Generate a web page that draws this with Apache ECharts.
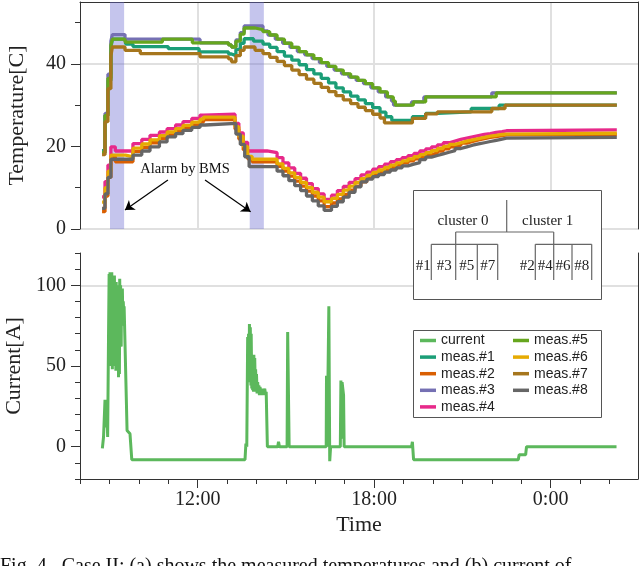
<!DOCTYPE html>
<html>
<head>
<meta charset="utf-8">
<script src="https://cdn.jsdelivr.net/npm/echarts@6/dist/echarts.min.js"></script>
<style>
html, body { margin: 0; padding: 0; background: #fff; }
#main { width: 640px; height: 566px; }
</style>
</head>
<body>
<div id="main"></div>
<script>
// time in hours from midnight of day 1 (24 = 0:00 next day)
var hourTicks = [8, 9, 10, 11, 12, 13, 14, 15, 16, 17, 18, 19, 20, 21, 22, 23, 24, 25, 26];
var hourLabels = [12, 18, 24];
var tempTicks = [0, 20, 40];
var tempMinor = [10, 30, 50];
var currTicks = [0, 50, 100];
var currMinor = [-20, -10, 10, 20, 30, 40, 60, 70, 80, 90, 110, 120];
var alarms = [[9.02, 9.50], [13.77, 14.25]];
var arrows = [[[10.99, 11.87], [9.53, 4.60]], [[12.25, 11.87], [13.80, 4.19]]];

var current = [[8.76,-1],[8.80,6],[8.85,29],[8.88,12],[8.91,27],[8.94,6],[8.97,69],
  [8.99,107],[9.01,70],[9.02,108],[9.04,50],[9.05,107],[9.07,62],[9.08,108],[9.10,48],[9.11,105],[9.13,55],[9.14,100],[9.16,50],[9.17,106],[9.19,60],[9.20,100],[9.22,47],[9.23,102],[9.25,65],[9.26,100],[9.28,55],[9.29,98],[9.31,43],[9.32,100],[9.34,45],[9.35,104],[9.37,70],[9.38,100],[9.40,62],[9.41,96],[9.43,80],[9.44,98],[9.46,75],[9.47,90],[9.49,82],[9.50,87],
  [9.60,10],[9.70,8],[9.76,-8],
  [13.61,-8],[13.64,2],[13.67,0],[13.70,68],[13.72,40],[13.73,70],[13.75,45],[13.76,76],[13.78,40],[13.79,74],[13.81,38],[13.82,70],[13.84,36],[13.85,57],[13.87,35],[13.88,56],[13.90,34],[13.91,57],[13.93,35],[13.94,55],[13.96,36],[13.97,48],[13.99,34],[14.00,45],[14.02,33],[14.04,40],[14.06,33],[14.08,38],[14.10,32],[14.12,37],[14.15,33],[14.17,36],[14.20,32],[14.22,35],[14.25,33],[14.28,36],[14.31,32],[14.33,34],[14.37,0],
  [14.72,0],[14.75,3],[14.78,0],[15.04,0],[15.06,71],[15.09,71],[15.11,0],
  [16.37,0],[16.38,44],[16.39,2],[16.40,42],[16.41,0],[16.43,42],[16.46,87],[16.49,-9],[16.52,0],
  [16.85,0],[16.87,41],[16.89,5],[16.91,40],[16.96,32],[16.98,0],
  [19.27,0],[19.30,3],[19.34,-8],[22.90,-8],[22.93,-5],[23.15,-5],[23.18,0],[26.24,0]];

var meas1 = [[8.75,19.0],[8.85,27.5],[8.95,36.0],[9.05,44.0],[9.10,46.0],[9.55,44.8],[9.80,44.2],[11.00,43.7],[12.05,42.9],[13.05,42.4],[13.15,42.0],[13.30,43.5],[13.45,45.0],[13.58,46.1],[13.90,45.5],[14.22,44.8],[14.45,44.0],[14.70,43.0],[14.95,41.9],[15.20,40.9],[15.45,39.8],[15.70,38.6],[15.95,37.6],[16.20,36.5],[16.45,35.4],[16.70,34.2],[16.95,33.2],[17.20,32.2],[17.45,31.3],[17.70,30.4],[17.95,29.4],[18.20,28.3],[18.40,27.2],[18.60,26.3],[19.30,27.2],[19.75,28.0],[20.15,28.4],[21.30,29.2],[22.25,30.0],[26.25,30.0]];
var meas2 = [[8.75,4.2],[8.85,8.0],[8.95,12.5],[9.05,17.5],[9.20,16.3],[9.55,16.3],[9.80,18.8],[10.10,19.8],[10.38,20.9],[10.70,21.9],[10.96,22.8],[11.25,23.7],[11.50,24.5],[11.80,25.2],[12.08,25.9],[12.20,26.5],[13.27,24.2],[13.40,21.8],[13.55,19.2],[13.70,17.0],[13.85,16.3],[14.70,15.2],[14.90,14.0],[15.10,12.8],[15.30,11.6],[15.50,10.4],[15.70,9.2],[15.90,8.0],[16.10,6.8],[16.30,5.4],[16.55,6.3],[16.75,7.3],[16.95,8.4],[17.15,9.4],[17.35,10.4],[17.55,11.4],[17.75,12.3],[17.95,13.0],[18.15,13.7],[18.35,14.3],[18.55,14.9],[18.75,15.5],[18.95,16.0],[19.15,16.5],[19.35,17.0],[19.55,17.5],[19.75,18.0],[19.95,18.4],[20.15,18.9],[20.35,19.4],[20.55,19.9],[20.75,20.3],[20.95,20.8],[21.15,21.2],[21.35,21.6],[21.55,21.9],[21.75,22.2],[21.95,22.4],[22.15,22.6],[22.35,22.8],[22.50,22.9],[26.25,22.9]];
var meas3 = [[8.75,18.5],[8.85,28.0],[8.95,37.5],[9.05,45.5],[9.10,47.1],[9.53,46.0],[12.08,45.1],[13.05,44.6],[13.15,44.1],[13.30,45.8],[13.45,47.6],[13.58,49.2],[14.22,48.0],[14.39,47.0],[14.64,46.0],[14.89,45.0],[15.14,44.0],[15.39,43.0],[15.64,42.2],[15.89,41.3],[16.14,40.3],[16.39,39.4],[16.64,38.5],[16.89,37.6],[17.14,36.8],[17.39,36.0],[17.64,35.2],[17.89,34.2],[18.14,33.2],[18.39,32.0],[18.59,31.0],[18.66,30.0],[19.27,30.8],[19.69,32.0],[22.00,33.0],[26.25,33.0]];
var meas4 = [[8.75,7.8],[8.85,11.5],[8.95,15.5],[9.05,19.9],[9.20,18.9],[9.55,18.9],[9.80,20.7],[10.10,21.7],[10.38,22.7],[10.70,23.5],[10.96,24.3],[11.25,25.2],[11.50,26.0],[11.80,26.8],[12.08,27.6],[12.20,27.8],[13.27,25.6],[13.40,23.3],[13.55,21.0],[13.70,18.9],[14.36,18.5],[14.70,17.3],[14.90,16.0],[15.10,14.8],[15.30,13.5],[15.50,12.3],[15.70,11.0],[15.90,9.8],[16.10,8.5],[16.30,7.2],[16.55,8.2],[16.75,9.3],[16.95,10.3],[17.15,11.3],[17.35,12.2],[17.55,13.1],[17.75,13.8],[17.95,14.5],[18.15,15.1],[18.35,15.7],[18.55,16.3],[18.75,16.8],[18.95,17.3],[19.15,17.8],[19.35,18.3],[19.55,18.9],[19.75,19.4],[19.95,19.9],[20.15,20.4],[20.35,20.9],[20.55,21.3],[20.75,21.7],[20.95,22.0],[21.15,22.3],[21.35,22.6],[21.55,22.9],[21.75,23.1],[21.95,23.4],[22.15,23.6],[22.35,23.8],[22.50,24.0],[26.25,24.0]];
var meas5 = [[8.75,18.5],[8.85,27.5],[8.95,36.5],[9.05,44.5],[9.10,46.0],[9.53,45.3],[10.80,46.0],[11.82,45.1],[13.05,44.6],[13.15,44.1],[13.30,45.5],[13.45,47.2],[13.58,48.7],[13.95,48.3],[14.22,47.8],[14.45,47.0],[14.70,46.0],[14.95,45.0],[15.20,44.0],[15.45,43.0],[15.70,42.2],[15.95,41.3],[16.20,40.3],[16.45,39.4],[16.70,38.5],[16.95,37.6],[17.20,36.8],[17.45,36.0],[17.70,35.2],[17.95,34.2],[18.20,33.2],[18.45,32.0],[18.65,31.0],[18.72,30.0],[19.33,30.8],[19.75,32.0],[22.15,33.0],[26.25,33.0]];
var meas6 = [[8.75,6.5],[8.85,10.0],[8.95,14.0],[9.05,17.9],[9.55,17.5],[9.80,19.6],[10.10,20.6],[10.38,21.6],[10.70,22.6],[10.96,23.5],[11.25,24.3],[11.50,25.1],[11.80,25.9],[12.08,26.6],[12.20,27.1],[13.27,24.8],[13.40,22.5],[13.55,20.0],[13.70,17.6],[13.85,16.9],[14.70,15.8],[14.90,14.7],[15.10,13.6],[15.30,12.5],[15.50,11.3],[15.70,10.1],[15.90,8.9],[16.10,7.7],[16.30,6.6],[16.55,7.4],[16.75,8.4],[16.95,9.4],[17.15,10.4],[17.35,11.3],[17.55,12.2],[17.75,13.0],[17.95,13.7],[18.15,14.3],[18.35,14.9],[18.55,15.5],[18.75,16.0],[18.95,16.5],[19.15,17.0],[19.35,17.5],[19.55,18.0],[19.75,18.5],[19.95,19.0],[20.15,19.5],[20.35,20.0],[20.55,20.5],[20.75,20.9],[20.95,21.3],[21.15,21.6],[21.35,21.9],[21.55,22.2],[21.75,22.5],[21.95,22.7],[22.15,22.9],[22.35,23.0],[22.50,23.2],[26.25,23.2]];
var meas7 = [[8.75,18.0],[8.85,26.0],[8.95,34.0],[9.05,42.0],[9.10,44.1],[9.53,43.3],[10.05,42.5],[12.08,41.7],[13.05,41.2],[13.15,40.5],[13.30,42.0],[13.45,43.3],[13.58,44.1],[13.95,43.3],[14.22,42.5],[14.45,41.6],[14.70,40.6],[14.95,39.6],[15.20,38.5],[15.45,37.4],[15.70,36.3],[15.95,35.3],[16.20,34.3],[16.45,33.3],[16.70,32.3],[16.95,31.3],[17.20,30.4],[17.45,29.5],[17.70,28.7],[17.95,27.8],[18.20,26.9],[18.35,25.7],[19.30,26.8],[19.75,27.9],[20.15,28.4],[22.00,29.2],[22.45,30.0],[26.25,30.0]];
var meas8 = [[8.75,5.0],[8.85,8.5],[8.95,12.5],[9.05,16.9],[9.55,16.9],[9.80,17.9],[10.10,18.9],[10.38,19.9],[10.70,21.1],[10.96,22.3],[11.25,23.1],[11.50,23.9],[11.80,24.6],[12.08,25.2],[12.25,25.6],[13.30,23.0],[13.45,20.5],[13.60,17.5],[13.75,15.1],[14.70,14.0],[14.90,12.9],[15.10,11.7],[15.30,10.5],[15.50,9.3],[15.70,8.0],[15.90,6.8],[16.10,5.6],[16.30,4.5],[16.55,5.5],[16.75,6.6],[16.95,7.7],[17.15,8.9],[17.35,10.2],[17.55,11.4],[17.75,12.1],[17.95,12.7],[18.15,13.2],[18.35,13.8],[18.55,14.3],[18.75,14.8],[18.95,15.3],[19.15,15.7],[19.35,16.1],[19.55,16.8],[19.75,17.4],[19.95,17.8],[20.15,18.2],[20.35,18.6],[20.55,19.0],[20.75,19.5],[20.95,19.9],[21.15,20.3],[21.35,20.6],[21.55,20.9],[21.75,21.2],[21.95,21.5],[22.15,21.8],[22.35,22.0],[22.50,22.2],[26.25,22.2]];

var measNames = ['meas.#1', 'meas.#2', 'meas.#3', 'meas.#4', 'meas.#5', 'meas.#6', 'meas.#7', 'meas.#8'];
var measData = [meas1, meas2, meas3, meas4, meas5, meas6, meas7, meas8];
var measColors = ['#1b9e77', '#d95f02', '#7570b3', '#e7298a', '#66a61e', '#e6ab02', '#a6761d', '#666666'];

var serif = '"Liberation Serif", "DejaVu Serif", serif';
var sans = '"Liberation Sans", Arial, sans-serif';
var axisColor = '#333';
var gridColor = '#e0e0e0';
var T = 'rgba(0,0,0,0)';
var tickFont = { fontFamily: serif, fontSize: 20, color: '#222' };
var nameFont = { fontFamily: serif, fontSize: 22, color: '#222' };

var chart = echarts.init(document.getElementById('main'));

var series = [{
    name: 'current',
    type: 'line',
    xAxisIndex: 2,
    yAxisIndex: 3,
    data: current,
    symbol: 'none',
    lineStyle: { color: '#5cb85c', width: 3 },
    itemStyle: { color: '#5cb85c' },
    z: 3
}];
measData.forEach(function (d, i) {
    var s = {
        name: measNames[i],
        type: 'line',
        xAxisIndex: 0,
        yAxisIndex: 0,
        step: 'end',
        data: d,
        symbol: 'none',
        lineStyle: { color: measColors[i], width: 3.3 },
        itemStyle: { color: measColors[i] },
        z: 3
    };
    if (i === 0) {
        s.markArea = {
            silent: true,
            itemStyle: { color: 'rgba(110,110,210,0.4)' },
            data: alarms.map(function (a) { return [{ xAxis: a[0] }, { xAxis: a[1] }]; })
        };
        s.markLine = {
            silent: true,
            symbol: ['none', 'arrow'],
            symbolSize: 9,
            label: { show: false },
            lineStyle: { color: '#000', width: 1.2, type: 'solid' },
            data: arrows.map(function (a) { return [{ coord: a[0] }, { coord: a[1] }]; })
        };
    }
    series.push(s);
});

function line(x1, y1, x2, y2) {
    return { type: 'line', z: 11, shape: { x1: x1, y1: y1, x2: x2, y2: y2 }, style: { stroke: '#666', lineWidth: 1.2 } };
}
function label(x, y, t) {
    return { type: 'text', z: 12, x: x, y: y, style: { text: t, fontFamily: serif, fontSize: 15, fill: '#222', align: 'center', verticalAlign: 'middle' } };
}

var graphics = [
    { type: 'rect', z: 10, shape: { x: 413.5, y: 190.5, width: 188, height: 109 }, style: { fill: '#fff', stroke: '#555', lineWidth: 1 } },
    line(506.7, 200, 506.7, 232),
    line(455.7, 232, 553.7, 232),
    line(455.7, 232, 455.7, 280),
    line(553.7, 232, 553.7, 280),
    line(431.3, 244.3, 497.7, 244.3),
    line(431.3, 244.3, 431.3, 280),
    line(477.3, 244.3, 477.3, 280),
    line(497.7, 244.3, 497.7, 280),
    line(535.3, 244.3, 591.7, 244.3),
    line(535.3, 244.3, 535.3, 280),
    line(572, 244.3, 572, 280),
    line(591.7, 244.3, 591.7, 280),
    label(463, 221.5, 'cluster 0'),
    label(547.7, 221.5, 'cluster 1'),
    label(423.3, 266, '#1'), label(444.3, 266, '#3'), label(466.7, 266, '#5'), label(487.7, 266, '#7'),
    label(527.3, 266, '#2'), label(545.3, 266, '#4'), label(563, 266, '#6'), label(581.7, 266, '#8'),
    { type: 'rect', z: 10, shape: { x: 413.5, y: 330.5, width: 188, height: 87 }, style: { fill: '#fff', stroke: '#555', lineWidth: 1 } },
    { type: 'text', z: 12, x: 185, y: 169, style: { text: 'Alarm by BMS', fontFamily: serif, fontSize: 14.5, fill: '#111', align: 'center', verticalAlign: 'middle' } },
    { type: 'text', z: 12, x: 0, y: 557, style: { text: 'Fig. 4.  Case II: (a) shows the measured temperatures and (b) current of', fontFamily: serif, fontSize: 20, fill: '#111', align: 'left', verticalAlign: 'top' } }
];

var legendBase = {
    orient: 'vertical',
    icon: 'rect',
    itemWidth: 16,
    itemHeight: 3.5,
    itemGap: 2.6,
    padding: 0,
    top: 333.5,
    z: 20,
    selectedMode: false,
    textStyle: { fontFamily: sans, fontSize: 14, color: '#222', padding: 0 }
};

chart.setOption({
    animation: false,
    backgroundColor: '#fff',
    grid: [
        { left: 80, right: 2, top: 2, height: 227, outerBoundsMode: 'none', containLabel: false },
        { left: 80, right: 2, top: 253, height: 226, outerBoundsMode: 'none', containLabel: false }
    ],
    legend: [
        Object.assign({}, legendBase, { left: 420, data: ['current', 'meas.#1', 'meas.#2', 'meas.#3', 'meas.#4'] }),
        Object.assign({}, legendBase, { left: 513, data: ['meas.#5', 'meas.#6', 'meas.#7', 'meas.#8'] })
    ],
    xAxis: [
        { gridIndex: 0, type: 'value', min: 8, max: 26.97, interval: 1,
          axisLine: { show: false, onZero: false }, axisTick: { show: false }, axisLabel: { show: false },
          splitLine: { show: true, lineStyle: { color: [T, T, T, T, gridColor, T], width: 2 } } },
        { gridIndex: 0, type: 'value', min: 8, max: 26.97, position: 'top',
          axisLine: { show: true, onZero: false, lineStyle: { color: axisColor, width: 1 } },
          axisTick: { show: false }, axisLabel: { show: false }, splitLine: { show: false } },
        { gridIndex: 1, type: 'value', min: 8, max: 26.97, interval: 1, position: 'bottom',
          axisLine: { show: true, onZero: false, lineStyle: { color: axisColor, width: 1 } },
          axisTick: { show: true, length: 9, customValues: hourLabels, lineStyle: { color: axisColor } },
          axisLabel: Object.assign({ customValues: hourLabels, margin: 11, formatter: function (v) { return (v % 24) + ':00'; } }, tickFont),
          splitLine: { show: true, lineStyle: { color: [T, T, T, T, gridColor, T], width: 2 } },
          name: 'Time', nameLocation: 'middle', nameGap: 35, nameTextStyle: nameFont },
        { gridIndex: 1, type: 'value', min: 8, max: 26.97, position: 'bottom',
          axisLine: { show: false, onZero: false },
          axisTick: { show: true, length: 5, customValues: hourTicks, lineStyle: { color: axisColor } },
          axisLabel: { show: false }, splitLine: { show: false } }
    ],
    yAxis: [
        { gridIndex: 0, type: 'value', min: 0, max: 55, interval: 10, position: 'left',
          axisLine: { show: true, onZero: false, lineStyle: { color: axisColor, width: 1 } },
          axisTick: { show: true, length: 9, customValues: tempTicks, lineStyle: { color: axisColor } },
          axisLabel: Object.assign({ customValues: tempTicks, margin: 14 }, tickFont),
          splitLine: { show: true, lineStyle: { color: [gridColor, T], width: 2 } },
          name: 'Temperature[C]', nameLocation: 'middle', nameGap: 52, nameTextStyle: nameFont },
        { gridIndex: 0, type: 'value', min: 0, max: 55, position: 'left',
          axisLine: { show: false, onZero: false },
          axisTick: { show: true, length: 5, customValues: tempMinor, lineStyle: { color: axisColor } },
          axisLabel: { show: false }, splitLine: { show: false } },
        { gridIndex: 0, type: 'value', min: 0, max: 55, position: 'right',
          axisLine: { show: true, onZero: false, lineStyle: { color: axisColor, width: 1 } },
          axisTick: { show: false }, axisLabel: { show: false }, splitLine: { show: false } },
        { gridIndex: 1, type: 'value', min: -20, max: 120, interval: 10, position: 'left',
          axisLine: { show: true, onZero: false, lineStyle: { color: axisColor, width: 1 } },
          axisTick: { show: true, length: 9, customValues: currTicks, lineStyle: { color: axisColor } },
          axisLabel: Object.assign({ customValues: currTicks, margin: 14 }, tickFont),
          splitLine: { show: true, lineStyle: { color: [T, T, gridColor, T, T], width: 2 } },
          name: 'Current[A]', nameLocation: 'middle', nameGap: 52, nameTextStyle: nameFont },
        { gridIndex: 1, type: 'value', min: -20, max: 120, position: 'left',
          axisLine: { show: false, onZero: false },
          axisTick: { show: true, length: 5, customValues: currMinor, lineStyle: { color: axisColor } },
          axisLabel: { show: false }, splitLine: { show: false } },
        { gridIndex: 1, type: 'value', min: -20, max: 120, position: 'right',
          axisLine: { show: true, onZero: false, lineStyle: { color: axisColor, width: 1 } },
          axisTick: { show: false }, axisLabel: { show: false }, splitLine: { show: false } }
    ],
    graphic: graphics,
    series: series
});
</script>
</body>
</html>
